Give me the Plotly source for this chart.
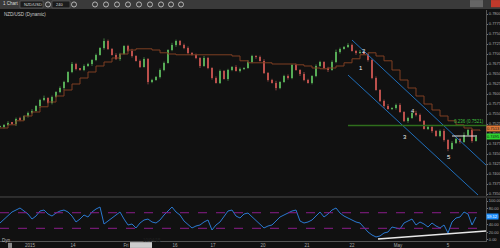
import plotly.graph_objects as go

# ---------------- data ----------------
closes = [
    0.7518, 0.7523, 0.7528, 0.7525, 0.7538, 0.7535, 0.7545, 0.7553, 0.7558, 0.7570,
    0.7585, 0.7590, 0.7578, 0.7593, 0.7605, 0.7615, 0.7630, 0.7655, 0.7675, 0.7663,
    0.7660, 0.7670, 0.7675, 0.7685, 0.7698, 0.7715, 0.7733, 0.7713, 0.7698, 0.7688,
    0.7700, 0.7720, 0.7708, 0.7695, 0.7683, 0.7668, 0.7688, 0.7630, 0.7635, 0.7643,
    0.7660, 0.7678, 0.7710, 0.7723, 0.7733, 0.7723, 0.7715, 0.7703, 0.7698, 0.7690,
    0.7670, 0.7690, 0.7665, 0.7640, 0.7628, 0.7658, 0.7638, 0.7660, 0.7668, 0.7658,
    0.7663, 0.7665, 0.7680, 0.7695, 0.7693, 0.7683, 0.7653, 0.7635, 0.7628, 0.7615,
    0.7630, 0.7645, 0.7640, 0.7673, 0.7660, 0.7650, 0.7635, 0.7628, 0.7645, 0.7670,
    0.7680, 0.7665, 0.7660, 0.7680, 0.7705, 0.7713, 0.7718, 0.7723, 0.7708, 0.7703,
    0.7705, 0.7700, 0.7685, 0.7640, 0.7610, 0.7583, 0.7570, 0.7563, 0.7565, 0.7573,
    0.7555, 0.7533, 0.7540, 0.7553, 0.7548, 0.7533, 0.7513, 0.7518, 0.7508, 0.7495,
    0.7508, 0.7485, 0.7463, 0.7478, 0.7488, 0.7480, 0.7498, 0.7510, 0.7483, 0.7493]

# wick extensions in pips (0.0001)
wick_hi = [3, 2, 4, 2, 3, 5, 2, 3, 4, 2, 3, 6, 2, 3, 2, 4, 3, 2, 5, 3,
           2, 4, 3, 2, 3, 2, 6, 3, 2, 4, 3, 2, 3, 5, 2, 3, 4, 2, 3, 2,
           4, 3, 2, 5, 3, 2, 3, 4, 2, 3, 2, 5, 3, 2, 4, 3, 2, 3, 2, 4,
           3, 2, 5, 3, 2, 3, 4, 2, 3, 5, 2, 3, 4, 2, 3, 2, 5, 3, 2, 4,
           3, 2, 3, 4, 6, 3, 2, 4, 3, 2, 5, 3, 2, 3, 4, 2, 3, 5, 2, 3,
           4, 2, 3, 2, 5, 3, 2, 4, 3, 2, 3, 5, 2, 4, 3, 2, 6, 3, 2, 4]
wick_lo = [2, 4, 3, 2, 5, 3, 2, 4, 3, 2, 5, 3, 2, 4, 2, 3, 5, 2, 3, 4,
           2, 3, 2, 5, 3, 2, 4, 3, 2, 3, 5, 2, 3, 4, 2, 3, 2, 6, 3, 2,
           4, 3, 2, 3, 5, 2, 3, 4, 2, 3, 5, 2, 3, 4, 2, 3, 2, 5, 3, 2,
           4, 3, 2, 3, 5, 2, 3, 4, 2, 6, 3, 2, 4, 3, 2, 5, 3, 2, 4, 3,
           2, 3, 5, 2, 3, 4, 2, 3, 2, 5, 3, 2, 4, 3, 2, 3, 5, 2, 3, 4,
           2, 3, 5, 2, 4, 3, 2, 3, 5, 2, 3, 4, 6, 2, 3, 4, 2, 3, 5, 2]

ma_idx = list(range(0, 121, 2))
ma_vals = [
    0.7515, 0.7523, 0.7533, 0.7545, 0.7555, 0.7568, 0.7580, 0.7595, 0.7610, 0.7625,
    0.7640, 0.7655, 0.7670, 0.7680, 0.7690, 0.7700, 0.7710, 0.7713, 0.7713, 0.7710,
    0.7703, 0.7700, 0.7698, 0.7698, 0.7698, 0.7698, 0.7698, 0.7698, 0.7698, 0.7695,
    0.7683, 0.7678, 0.7678, 0.7678, 0.7675, 0.7675, 0.7675, 0.7673, 0.7670, 0.7665,
    0.7663, 0.7665, 0.7670, 0.7678, 0.7688, 0.7698, 0.7703, 0.7695, 0.7683, 0.7660,
    0.7635, 0.7615, 0.7595, 0.7575, 0.7560, 0.7545, 0.7533, 0.7523, 0.7515, 0.7510, 0.7508]

rsi = [
    43.6, 53.8, 64.1, 71.8, 76.9, 82.1, 74.4, 66.7, 53.8, 61.5,
    74.4, 76.9, 66.7, 61.5, 69.2, 74.4, 76.9, 71.8, 61.5, 46.2,
    53.8, 64.1, 59.0, 71.8, 79.5, 84.6, 41.0, 48.7, 56.4, 64.1,
    71.8, 53.8, 38.5, 41.0, 30.8, 43.6, 51.3, 53.8, 46.2, 43.6,
    51.3, 64.1, 74.4, 84.6, 71.8, 64.1, 48.7, 38.5, 30.8, 35.9,
    38.5, 46.2, 51.3, 25.6, 38.5, 46.2, 61.5, 74.4, 76.9, 61.5,
    56.4, 66.7, 69.2, 59.0, 48.7, 38.5, 30.8, 35.9, 38.5, 48.7,
    59.0, 64.1, 69.2, 74.4, 76.9, 48.7, 43.6, 46.2, 51.3, 61.5,
    71.8, 59.0, 66.7, 76.9, 82.1, 69.2, 61.5, 56.4, 51.3, 46.2,
    43.6, 30.8, 20.5, 12.8, 7.7, 10.3, 17.9, 20.5, 33.3, 30.8,
    28.2, 43.6, 48.7, 53.8, 38.5, 46.2, 41.0, 33.3, 43.6, 35.9,
    30.8, 38.5, 17.9, 46.2, 56.4, 59.0, 71.8, 66.7, 38.5, 59.0]

price_ticks = [0.7800, 0.7775, 0.7750, 0.7725, 0.7700, 0.7675, 0.7650, 0.7625, 0.7600,
               0.7575, 0.7550, 0.7525, 0.7500, 0.7475, 0.7450, 0.7425, 0.7400, 0.7375, 0.7350]
rsi_ticks = [0, 20, 40, 60, 80, 100]
rsi_levels = [70, 30]
x_tick_pos = [7.5, 18.25, 31.5, 43.75, 53.25, 65.75, 76.75, 88, 99.5, 112]
x_tick_text = ["2015", "14", "Fri", "16", "17", "20", "21", "22", "May", "5"]

channel_upper = [(88, 0.7735), (121.75, 0.7420)]
channel_lower = [(87, 0.76475), (119.5, 0.73475)]
fib_level = 0.7521
fib_span = [87, 121.5]
resist_level = 0.7495
resist_span = [113, 119.25]
rsi_trend = [(94.5, 2.6), (121.75, 23.1)]
wave_labels = [("1", 90.25, 0.7665), ("2", 91.0, 0.77075), ("3", 101.25, 0.74925),
               ("4", 103.25, 0.75575), ("5", 112.25, 0.74425)]
last_ask = 0.7513
last_bid = 0.7495
rsi_last = 59.12

# ---------------- build ----------------
idx = list(range(len(closes)))
opens = [closes[0]] + closes[:-1]
highs = [max(o, c) + h * 0.0001 for o, c, h in zip(opens, closes, wick_hi)]
lows = [min(o, c) - l * 0.0001 for o, c, l in zip(opens, closes, wick_lo)]

BG = "#111111"
FONT = "Liberation Sans"
TXT = "#a8a8a8"
UP = "#5cb85c"
DN = "#c9504c"

up_mask = [c >= o for o, c in zip(opens, closes)]
body_base = [min(o, c) for o, c in zip(opens, closes)]
body_h = [max(abs(c - o), 0.00006) for o, c in zip(opens, closes)]
body_col = [UP if u else DN for u in up_mask]

fig = go.Figure()
for is_up, col in [(True, "#4f9a4f"), (False, "#a8504c")]:
    wx, wy = [], []
    for i in idx:
        if up_mask[i] == is_up:
            wx += [i, i, None]
            wy += [lows[i], highs[i], None]
    fig.add_trace(go.Scatter(x=wx, y=wy, mode="lines", line=dict(color=col, width=0.8),
                             showlegend=False, hoverinfo="skip", xaxis="x", yaxis="y"))
fig.add_trace(go.Bar(x=idx, y=body_h, base=body_base, width=0.6,
                     marker=dict(color=body_col, line=dict(width=0)),
                     showlegend=False, hoverinfo="skip", xaxis="x", yaxis="y"))
fig.add_trace(go.Scatter(x=ma_idx, y=ma_vals, mode="lines",
                         line=dict(color="#7e3f22", width=1, shape="hv"),
                         showlegend=False, hoverinfo="skip", xaxis="x", yaxis="y"))
for ch in (channel_upper, channel_lower):
    fig.add_trace(go.Scatter(x=[p[0] for p in ch], y=[p[1] for p in ch], mode="lines",
                             line=dict(color="#1f6db8", width=1), showlegend=False,
                             hoverinfo="skip", xaxis="x", yaxis="y"))
fig.add_trace(go.Scatter(x=fib_span, y=[fib_level, fib_level], mode="lines",
                         line=dict(color="#2f6e1c", width=1.5), showlegend=False,
                         hoverinfo="skip", xaxis="x", yaxis="y"))
fig.add_trace(go.Scatter(x=resist_span, y=[resist_level, resist_level], mode="lines",
                         line=dict(color="#e0e0e0", width=1), showlegend=False,
                         hoverinfo="skip", xaxis="x", yaxis="y"))
fig.add_trace(go.Scatter(x=idx, y=rsi, mode="lines", line=dict(color="#2a78d0", width=1),
                         showlegend=False, hoverinfo="skip", xaxis="x2", yaxis="y2"))
fig.add_trace(go.Scatter(x=[p[0] for p in rsi_trend], y=[p[1] for p in rsi_trend], mode="lines",
                         line=dict(color="#e8e8e8", width=1.5), showlegend=False,
                         hoverinfo="skip", xaxis="x2", yaxis="y2"))

shapes = []
for lv in rsi_levels:
    shapes.append(dict(type="line", xref="x2 domain", yref="y2", x0=0, x1=1, y0=lv, y1=lv,
                       line=dict(color="#8a1d8a", width=1, dash="dash")))
# panel separator
shapes.append(dict(type="line", xref="paper", yref="paper", x0=0, x1=1.03, y0=0.1905, y1=0.1905,
                   line=dict(color="#4a4a4a", width=1)))
# toolbar
shapes.append(dict(type="rect", xref="paper", yref="paper", x0=0, x1=1.03, y0=1.004, y1=1.05,
                   fillcolor="#3a3a3a", line=dict(width=0), layer="above"))
for a, b in [(20, 43), (52, 70)]:
    shapes.append(dict(type="rect", xref="paper", yref="paper", x0=a / 486, x1=b / 486,
                       y0=1.009, y1=1.039, fillcolor="#1c1c1c",
                       line=dict(color="#777777", width=0.5), layer="above"))
for cx in [48, 74, 95, 106, 117, 128, 139, 150, 161, 171, 181]:
    shapes.append(dict(type="circle", xref="paper", yref="paper", x0=(cx - 2.5) / 486,
                       x1=(cx + 2.5) / 486, y0=1.013, y1=1.035,
                       line=dict(color="#cfcfcf", width=0.8), layer="above"))
shapes.append(dict(type="rect", xref="paper", yref="paper", x0=470 / 486, x1=483 / 486,
                   y0=1.012, y1=1.043, fillcolor="#666666", line=dict(width=0), layer="above"))
shapes.append(dict(type="rect", xref="paper", yref="paper", x0=491 / 486, x1=500 / 486,
                   y0=1.012, y1=1.043, fillcolor="#c0392b", line=dict(width=0), layer="above"))
# crosshair date box on x axis
shapes.append(dict(type="rect", xref="paper", yref="paper", x0=130 / 486, x1=152 / 486,
                   y0=-0.03, y1=-0.005, fillcolor="#cccccc", line=dict(width=0), layer="above"))
# dyn box bottom-left
shapes.append(dict(type="rect", xref="paper", yref="paper", x0=8 / 486, x1=12 / 486,
                   y0=-0.03, y1=-0.008, fillcolor="#888888", line=dict(width=0), layer="above"))

ann = []
for t, xi, yv in wave_labels:
    ann.append(dict(x=xi, y=yv, xref="x", yref="y", text=t, showarrow=False,
                    font=dict(family=FONT, size=6, color="#eeeeee")))
ann.append(dict(x=1, y=fib_level, xref="paper", yref="y", text="0.236 (0.7521)",
                showarrow=False, xanchor="right", yanchor="bottom",
                font=dict(family=FONT, size=4.5, color="#3fbf3f")))
ann.append(dict(x=0.004, y=1.0, xref="paper", yref="paper", text="NZD/USD (Dynamic)",
                showarrow=False, xanchor="left", yanchor="top",
                font=dict(family=FONT, size=4.5, color="#cccccc")))
ann.append(dict(x=0.002, y=1.027, xref="paper", yref="paper", text="1 Chart",
                showarrow=False, xanchor="left", yanchor="middle",
                font=dict(family=FONT, size=4.5, color="#dddddd")))
ann.append(dict(x=22 / 486, y=1.025, xref="paper", yref="paper", text="NZD/USD",
                showarrow=False, xanchor="left", yanchor="middle",
                font=dict(family=FONT, size=4, color="#dddddd")))
ann.append(dict(x=54 / 486, y=1.025, xref="paper", yref="paper", text="240",
                showarrow=False, xanchor="left", yanchor="middle",
                font=dict(family=FONT, size=4, color="#dddddd")))
ann.append(dict(x=1.0, y=last_ask, xref="paper", yref="y", text=f"{last_ask:.4f}",
                showarrow=False, xanchor="left", bgcolor="#e07a3a", borderpad=0,
                font=dict(family=FONT, size=4, color="#111111")))
ann.append(dict(x=1.0, y=last_bid, xref="paper", yref="y", text=f"{last_bid:.4f}",
                showarrow=False, xanchor="left", bgcolor="#2fd42f", borderpad=0,
                font=dict(family=FONT, size=4, color="#111111")))
ann.append(dict(x=1.0, y=rsi_last, xref="paper", yref="y2", text=f"{rsi_last:.2f}",
                showarrow=False, xanchor="left", bgcolor="#1e90ff", borderpad=0,
                font=dict(family=FONT, size=4, color="#ffffff")))
ann.append(dict(x=141 / 486, y=-0.018, xref="paper", yref="paper", text="10/04/15",
                showarrow=False, font=dict(family=FONT, size=4.5, color="#222222")))
ann.append(dict(x=0.0, y=-0.018, xref="paper", yref="paper", text="Dyn",
                showarrow=False, xanchor="left", font=dict(family=FONT, size=4.5, color="#bbbbbb")))

xrange = [0, 121.5]
fig.update_layout(
    width=500, height=248,
    margin=dict(l=0, r=14, t=10, b=7),
    paper_bgcolor=BG, plot_bgcolor=BG,
    font=dict(family=FONT, size=5, color=TXT),
    showlegend=False, barmode="overlay", bargap=0,
    shapes=shapes, annotations=ann,
    xaxis=dict(domain=[0, 1], anchor="y", range=xrange, showticklabels=False, showgrid=False,
               zeroline=False, fixedrange=True),
    yaxis=dict(domain=[0.1948, 1], anchor="x", side="right", range=[0.7345, 0.781],
               tickvals=price_ticks, ticktext=[f"{v:.4f}" for v in price_ticks],
               ticks="outside", ticklen=1, tickcolor="#777777", showgrid=False, zeroline=False,
               showline=True, linecolor="#555555", linewidth=1,
               tickfont=dict(family=FONT, size=4, color=TXT), automargin=False),
    xaxis2=dict(domain=[0, 1], anchor="y2", range=xrange, tickvals=x_tick_pos,
                ticktext=x_tick_text, showgrid=False, zeroline=False, showline=True,
                linecolor="#555555", ticks="", tickfont=dict(family=FONT, size=4.5, color=TXT),
                automargin=False),
    yaxis2=dict(domain=[0, 0.186], anchor="x2", side="right", range=[-2.6, 107.7],
                tickvals=rsi_ticks, ticktext=[f"{v:.2f}" for v in rsi_ticks],
                ticks="outside", ticklen=1, tickcolor="#777777", showgrid=False, zeroline=False,
                showline=True, linecolor="#555555", linewidth=1,
                tickfont=dict(family=FONT, size=4, color=TXT), automargin=False),
)

fig.write_html("out.html", config={"displayModeBar": False})
